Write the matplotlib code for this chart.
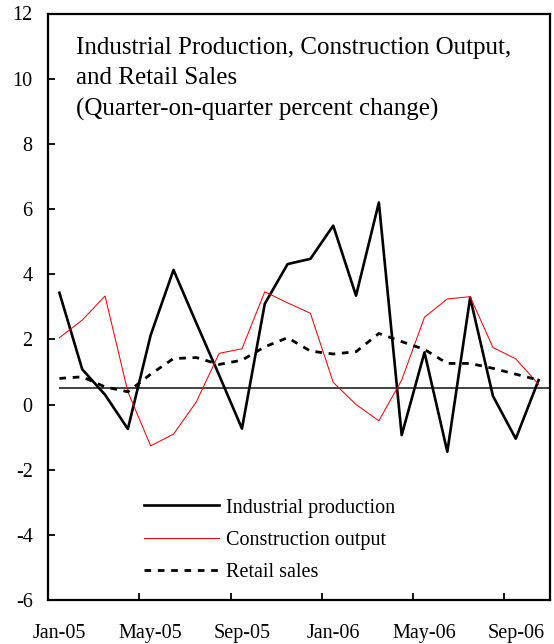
import matplotlib
matplotlib.use("Agg")
import matplotlib.pyplot as plt

plt.rcParams["font.family"] = ["Liberation Serif", "DejaVu Serif"]
plt.rcParams["axes.unicode_minus"] = False

months = ["Jan-05", "Feb-05", "Mar-05", "Apr-05", "May-05", "Jun-05", "Jul-05",
          "Aug-05", "Sep-05", "Oct-05", "Nov-05", "Dec-05", "Jan-06", "Feb-06",
          "Mar-06", "Apr-06", "May-06", "Jun-06", "Jul-06", "Aug-06", "Sep-06",
          "Oct-06"]

industrial = [3.43, 1.08, 0.30, -0.75, 2.13, 4.13, 2.50, 0.90, -0.74, 3.09,
              4.31, 4.47, 5.49, 3.34, 6.20, -0.94, 1.60, -1.45, 3.28, 0.26,
              -1.05, 0.75]
construction = [2.05, 2.59, 3.33, 0.39, -1.27, -0.91, 0.08, 1.57, 1.71, 3.46,
                3.12, 2.80, 0.68, 0.00, -0.50, 0.75, 2.68, 3.24, 3.31, 1.75,
                1.40, 0.62]
retail = [0.80, 0.85, 0.54, 0.39, 0.93, 1.41, 1.44, 1.23, 1.36, 1.77,
          2.05, 1.64, 1.55, 1.62, 2.18, 1.93, 1.69, 1.26, 1.26, 1.11,
          0.93, 0.75]
reference_level = 0.5

x = list(range(len(months)))

fig = plt.figure(figsize=(5.54, 6.44), dpi=100)
ax = fig.add_axes([48 / 554, 1 - 600 / 644, 502 / 554, (600 - 13.5) / 644])

ax.hlines(reference_level, 0, len(months) - 0.5, color="#222222", linewidth=1.2)

ax.plot(x, industrial, color="black", linewidth=1.9, label="Industrial production")
ax.plot(x, construction, color="#ff0000", linewidth=0.75, label="Construction output")
ax.plot(x, retail, color="black", linewidth=2.0, dashes=(2.4, 2.4),
        label="Retail sales")

ax.set_xlim(-0.5, len(months) - 0.5)
ax.set_ylim(-6, 12)
ax.set_yticks(range(-6, 13, 2))

ax.set_xticks([i - 0.5 for i in range(0, len(months), 4)])
ax.set_xticklabels([])
ax.set_xticks(range(0, len(months), 4), minor=True)
ax.set_xticklabels([months[i] for i in range(0, len(months), 4)], minor=True)
ax.tick_params(axis="x", which="major", direction="in", length=5, width=1.3)
ax.tick_params(axis="x", which="minor", length=0, pad=17, labelsize=14.5)
ax.tick_params(axis="y", direction="in", length=5, width=1.3, pad=11,
               labelsize=14.5)

for spine in ax.spines.values():
    spine.set_linewidth(1.6)

ax.text(28 / 502, 1 - 23 / 586,
        "Industrial Production, Construction Output,\nand Retail Sales\n"
        "(Quarter-on-quarter percent change)",
        transform=ax.transAxes, ha="left", va="top", fontsize=18,
        linespacing=1.5)

ax.legend(loc="lower left", bbox_to_anchor=(0.156, 0.0), frameon=False,
          fontsize=14.5, handlelength=3.7, handletextpad=0.35, labelspacing=0.65)

fig.savefig("out.png", dpi=100)
